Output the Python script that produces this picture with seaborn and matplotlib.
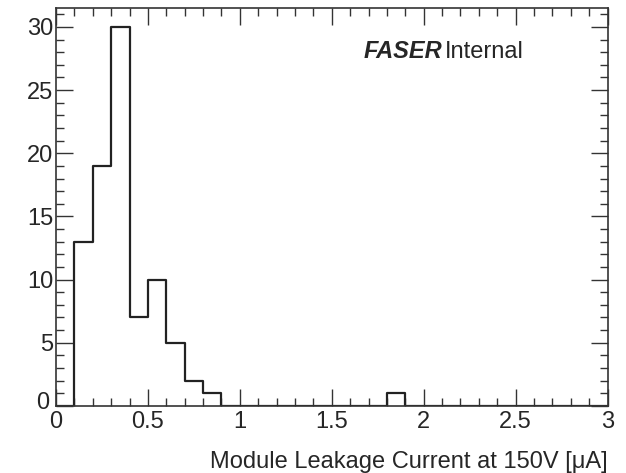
import numpy as np
import pandas as pd
import matplotlib
matplotlib.use("Agg")
import matplotlib.pyplot as plt
import matplotlib.transforms as mtransforms
import seaborn as sns
from matplotlib.ticker import MultipleLocator

# bin centers and counts (bin width 0.1 uA, range 0-3)
bin_centers = [0.15, 0.25, 0.35, 0.45, 0.55, 0.65, 0.75, 0.85, 1.85]
counts = [13, 19, 30, 7, 10, 5, 2, 1, 1]

df = pd.DataFrame({"current": bin_centers, "n": counts})

sns.set_style("ticks")
plt.rcParams["font.family"] = ["Liberation Sans", "DejaVu Sans"]

fig = plt.figure(figsize=(6.26, 4.73), dpi=100)
ax = fig.add_axes([0.0895, 0.142, 0.881, 0.841])

sns.histplot(data=df, x="current", weights="n", binwidth=0.1, binrange=(0, 3),
             element="step", fill=False, color="#222222", linewidth=1.6, ax=ax)

ax.set_xlim(0, 3)
ax.set_ylim(0, 31.5)
ax.xaxis.set_major_locator(MultipleLocator(0.5))
ax.xaxis.set_minor_locator(MultipleLocator(0.1))
ax.yaxis.set_major_locator(MultipleLocator(5))
ax.yaxis.set_minor_locator(MultipleLocator(1))
ax.set_xticks([0, 0.5, 1, 1.5, 2, 2.5, 3])
ax.set_xticklabels(["0", "0.5", "1", "1.5", "2", "2.5", "3"])
ax.set_yticks([0, 5, 10, 15, 20, 25, 30])
ax.tick_params(which="both", direction="in", top=True, right=True,
               labelsize=17, color="#333333")
ax.tick_params(axis="x", pad=4)
ax.tick_params(axis="y", pad=2)
ax.tick_params(which="major", length=12, width=1)
ax.tick_params(which="minor", length=6, width=1)
for s in ax.spines.values():
    s.set_linewidth(1.2)
    s.set_color("#333333")

# nudge the two "0" labels apart at the corner, as ROOT does
lab0 = ax.yaxis.get_major_ticks()[0].label1
lab0.set_transform(lab0.get_transform() +
                   mtransforms.ScaledTranslation(-3 / 72, 4 / 72, fig.dpi_scale_trans))

ax.set_ylabel("")
ax.set_xlabel("Module Leakage Current at 150V [\u03bcA]", fontsize=17,
              loc="right", labelpad=13)

ax.text(0.557, 0.89, "FASER", transform=ax.transAxes, fontsize=17,
        fontweight="bold", fontstyle="italic", va="center", ha="left")
ax.text(0.705, 0.89, "Internal", transform=ax.transAxes, fontsize=17,
        va="center", ha="left")

fig.savefig("out.png", dpi=100)
